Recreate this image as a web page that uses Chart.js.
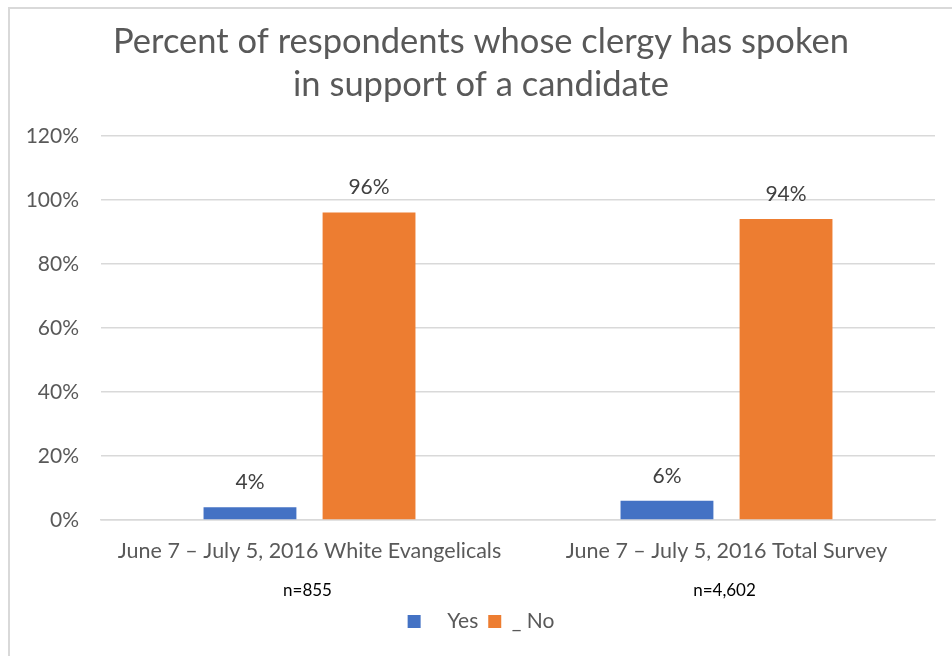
<!DOCTYPE html>
<html>
<head>
<meta charset="utf-8">
<script src="https://cdn.jsdelivr.net/npm/chart.js@4.4.1/dist/chart.umd.min.js"></script>
<style>
    html, body { margin: 0; padding: 0; background: #fff; }
    #wrap { position: relative; width: 952px; height: 656px; }
    #frame {
        position: absolute; left: 8px; top: 7px; right: 0; bottom: 0;
        border-left: 2px solid #d9d9d9; border-top: 2px solid #d9d9d9;
        pointer-events: none;
    }
    canvas { position: absolute; left: 0; top: 0; }
</style>
</head>
<body>
<div id="wrap">
    <canvas id="chart" width="952" height="656"></canvas>
    <div id="frame"></div>
</div>
<script>
const categories = ["June 7 – July 5, 2016 White Evangelicals", "June 7 – July 5, 2016 Total Survey"];
const sampleSizes = ["n=855", "n=4,602"];
const yesValues = [4, 6];
const noValues = [96, 94];
const seriesNames = ["   Yes", "_ No"];
const yTicks = [0, 20, 40, 60, 80, 100, 120];

const FONT = "Lato, 'Open Sans', sans-serif";
const TEXT = "#595959";

// value labels above bars, sample sizes under the category names
const annotate = {
    id: "annotate",
    afterDatasetsDraw(chart) {
        const ctx = chart.ctx;
        ctx.save();
        ctx.textAlign = "center";
        ctx.textBaseline = "middle";
        ctx.font = "21px " + FONT;
        ctx.fillStyle = "#404040";
        chart.data.datasets.forEach((ds, i) => {
            chart.getDatasetMeta(i).data.forEach((bar, j) => {
                ctx.fillText(ds.data[j] + "%", bar.x, bar.y - 25);
            });
        });
        const x = chart.scales.x;
        ctx.font = "17px " + FONT;
        ctx.fillStyle = "#000";
        sampleSizes.forEach((s, j) => {
            ctx.fillText(s, x.getPixelForValue(j) - 2, x.top + 71);
        });
        ctx.restore();
    }
};

new Chart(document.getElementById("chart"), {
    type: "bar",
    data: {
        labels: categories,
        datasets: [
            { label: seriesNames[0], data: yesValues, backgroundColor: "#4472C4" },
            { label: seriesNames[1], data: noValues, backgroundColor: "#ED7D31" },
        ],
    },
    options: {
        responsive: false,
        animation: false,
        categoryPercentage: 0.571,
        barPercentage: 0.78,
        layout: { padding: { left: 27, right: 17, top: 8, bottom: 14 } },
        plugins: {
            title: {
                display: true,
                text: ["Percent of respondents whose clergy has spoken", "in support of a candidate"],
                color: TEXT,
                font: { family: FONT, size: 34.5, weight: "normal", lineHeight: 1.25 },
                padding: { top: 12.5, bottom: 29 },
            },
            legend: {
                position: "bottom",
                labels: {
                    color: TEXT,
                    font: { family: FONT, size: 21 },
                    boxWidth: 13,
                    boxHeight: 13,
                    padding: 10,
                },
            },
            tooltip: { enabled: false },
        },
        scales: {
            x: {
                grid: { display: false, drawTicks: false },
                border: { color: "#d9d9d9", width: 1.5 },
                ticks: { color: TEXT, font: { family: FONT, size: 21.5 }, padding: 18, maxRotation: 0 },
                afterFit(scale) { scale.height = 81; },
            },
            y: {
                min: 0,
                max: 120,
                afterBuildTicks(scale) { scale.ticks = yTicks.map(v => ({ value: v })); },
                afterFit(scale) { scale.width = 74; },
                grid: { color: "#d9d9d9", lineWidth: 1.5, drawTicks: false },
                border: { display: false },
                ticks: {
                    color: TEXT,
                    font: { family: FONT, size: 21 },
                    padding: 22,
                    callback: v => v + "%",
                },
            },
        },
    },
    plugins: [annotate],
});
</script>
</body>
</html>
